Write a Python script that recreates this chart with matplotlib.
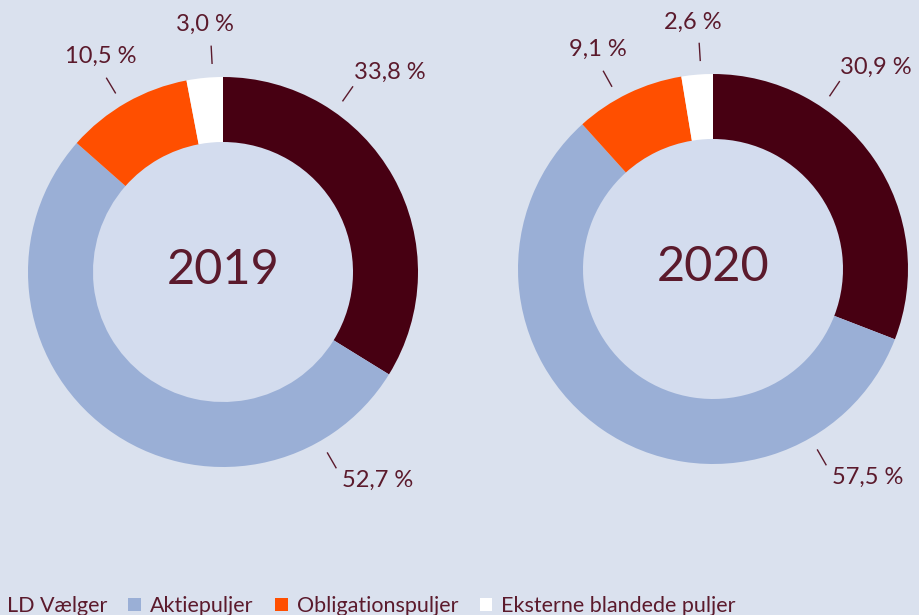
import numpy as np
import matplotlib
matplotlib.use("Agg")
import matplotlib.pyplot as plt
from matplotlib.patches import Circle

# data
categories = ["LD Vælger", "Aktiepuljer", "Obligationspuljer", "Eksterne blandede puljer"]
years = ["2019", "2020"]
shares_2019 = [33.8, 52.7, 10.5, 3.0]
shares_2020 = [30.9, 57.5, 9.1, 2.6]
label_angles_2019 = [55, -60, 121, 93]
label_angles_2020 = [56, -60, 119, 93.5]

colors = ["#470012", "#9aafd6", "#ff4f00", "#ffffff"]
bg = "#dae1ee"
inner_bg = "#d3dcee"
text_col = "#5b1a2c"

plt.rcParams["font.family"] = ["Lato", "DejaVu Sans"]

fig = plt.figure(figsize=(9.2, 6.15), dpi=100, facecolor=bg)
ax = fig.add_axes([0, 0, 1, 1])
ax.set_xlim(0, 920)
ax.set_ylim(0, 615)
ax.set_aspect("equal")
ax.axis("off")

R, W = 195, 65
charts = [
    (years[0], shares_2019, label_angles_2019, (223, 343)),
    (years[1], shares_2020, label_angles_2020, (713, 346)),
]

handles = None
for year, shares, angles, (cx, cy) in charts:
    wedges, _ = ax.pie(shares, colors=colors, startangle=90, counterclock=False,
                       radius=R, center=(cx, cy), frame=True,
                       wedgeprops=dict(width=W, linewidth=0))
    if handles is None:
        handles = wedges
    ax.add_patch(Circle((cx, cy), R - W, color=inner_bg, zorder=0.5))
    ax.text(cx, cy + 2, year, ha="center", va="center", fontsize=35,
            color=text_col)

    for val, ang in zip(shares, angles):
        a = np.deg2rad(ang)
        r1, r2 = 209, 226
        x1, y1 = cx + r1 * np.cos(a), cy + r1 * np.sin(a)
        x2, y2 = cx + r2 * np.cos(a), cy + r2 * np.sin(a)
        ax.plot([x1, x2], [y1, y2], color=text_col, lw=1)
        lbl = f"{val:.1f} %".replace(".", ",")
        if np.cos(a) > 0.3:
            if np.sin(a) > 0:
                ax.text(x2 + 1, y2 + 4, lbl, ha="left", va="bottom",
                        fontsize=17, color=text_col)
            else:
                ax.text(x2 + 6, y2 - 2, lbl, ha="left", va="top",
                        fontsize=17, color=text_col)
        else:
            ax.text(x2 - 6, y2 + 11, lbl, ha="center", va="bottom",
                    fontsize=17, color=text_col)

ax.set_xlim(0, 920)
ax.set_ylim(0, 615)

leg = fig.legend(handles, categories, loc="center left",
                 bbox_to_anchor=(-15 / 920, 9 / 615), ncol=4, frameon=False,
                 fontsize=15.5, handlelength=0.6, handleheight=0.6,
                 handletextpad=0.4, columnspacing=1.0, borderpad=0,
                 borderaxespad=0)
for t in leg.get_texts():
    t.set_color(text_col)

fig.savefig("out.png", dpi=100, facecolor=bg)
